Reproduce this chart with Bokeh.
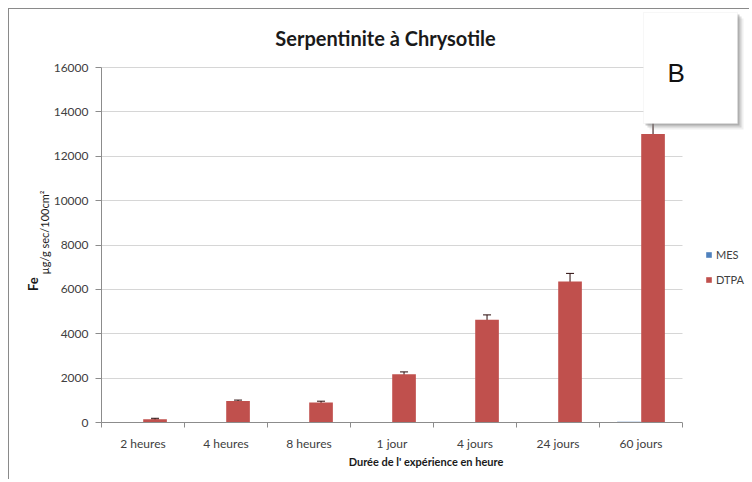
import numpy as np
from bokeh.plotting import figure
from bokeh.models import (Range1d, FixedTicker, ColumnDataSource, Whisker, TeeHead,
                          Label, Legend, LegendItem, BoxAnnotation, LinearAxis)
from bokeh.embed import file_html
from bokeh.resources import INLINE

# ---- data ----
categories = ["2 heures", "4 heures", "8 heures", "1 jour", "4 jours", "24 jours", "60 jours"]
mes = [0, 0, 0, 20, 0, 0, 30]
dtpa = [150, 970, 900, 2180, 4630, 6350, 13000]
dtpa_err = [40, 40, 60, 100, 220, 370, 660]
y_ticks = [0, 2000, 4000, 6000, 8000, 10000, 12000, 14000, 16000]

title_text = "Serpentinite à Chrysotile"
x_title = "Durée de l' expérience en heure"
y_title_main = "Fe"
y_title_sub = "µg/g sec/100cm²"
panel_letter = "B"

FONT = "Lato"
TXT = "#404040"
AX = "#8c8c8c"
MES_C = "#4F81BD"
DTPA_C = "#C0504D"

# ---- layout (page pixels) ----
OFF = 9                      # figure content origin on the page (margin + border)
W, H = 741, 471
B_LEFT, B_BOTTOM = 92, 58
frame_left = OFF + B_LEFT            # 101
frame_right = OFF + W                # 750
frame_top = OFF                      # 9
frame_bottom = OFF + H - B_BOTTOM    # 422
plot_right = 682                     # where the category area ends
plot_top = 67                        # where the top tick sits

n = len(categories)
y_max = y_ticks[-1]
x_end = n * (frame_right - frame_left) / (plot_right - frame_left)
y_end = y_max * (frame_bottom - frame_top) / (frame_bottom - plot_top)

def sx(px):  # page x -> frame screen units
    return px - frame_left

def sy(py):  # page y -> frame screen units (from bottom)
    return frame_bottom - py

xc = np.arange(n) + 0.5
off = 0.145
bw = 0.285

p = figure(width=W, height=H, output_backend="svg", toolbar_location=None,
           x_range=Range1d(0, x_end), y_range=Range1d(0, y_end),
           min_border_left=B_LEFT, min_border_right=0, min_border_top=0,
           min_border_bottom=B_BOTTOM)
p.outline_line_color = None
p.background_fill_color = "white"
p.border_fill_color = "white"
p.styles = {"margin-left": "8px", "margin-top": "8px",
            "border-left": "1px solid #8a8a8a", "border-top": "1px solid #8a8a8a"}

r_mes = p.vbar(x=xc - off, top=mes, width=bw, fill_color=MES_C, line_color=None)
r_dtpa = p.vbar(x=xc + off, top=dtpa, width=bw, fill_color=DTPA_C, line_color=None)

# cover grid lines beyond the category area
p.add_layout(BoxAnnotation(left=n, fill_color="white", fill_alpha=1, line_color=None))

lo = [v - e for v, e in zip(dtpa, dtpa_err)]
up = [v + e for v, e in zip(dtpa, dtpa_err)]
src = ColumnDataSource(dict(base=xc + off, lower=lo, upper=up))
wh = Whisker(base="base", lower="lower", upper="upper", source=src, line_color="#2a0a0a",
             line_width=1,
             upper_head=TeeHead(size=8, line_color="#2a0a0a", line_width=1),
             lower_head=TeeHead(size=8, line_color="#2a0a0a", line_width=1))
p.add_layout(wh)

# axes
p.xgrid.visible = False
p.ygrid.grid_line_color = "#d6d6d6"
p.yaxis.ticker = FixedTicker(ticks=y_ticks)
p.yaxis.bounds = (0, y_max)
p.yaxis.axis_line_color = AX
p.yaxis.major_tick_line_color = AX
p.yaxis.major_tick_out = 6
p.yaxis.major_tick_in = 0
p.yaxis.minor_tick_line_color = None
p.yaxis.major_label_text_font = FONT
p.yaxis.major_label_text_font_size = "12px"
p.yaxis.major_label_text_color = TXT
p.yaxis.major_label_standoff = 7

def title_axis(text, size, style, pad_em, standoff):
    ax = LinearAxis(ticker=FixedTicker(ticks=[]),
                    axis_label=text + "\u2003" * pad_em, axis_line_color=None,
                    major_tick_line_color=None, minor_tick_line_color=None,
                    major_tick_out=0, major_tick_in=0, minor_tick_out=0,
                    major_label_standoff=0, major_label_text_font_size="0px",
                    axis_label_standoff=standoff,
                    axis_label_text_font=FONT, axis_label_text_font_size=size,
                    axis_label_text_font_style=style, axis_label_text_color="#1a1a1a")
    p.add_layout(ax, "left")

title_axis(y_title_sub, "11px", "normal", 4, 0)
title_axis(y_title_main, "13px", "bold", 14, -6)

p.xaxis.ticker = FixedTicker(ticks=list(xc), minor_ticks=list(range(n + 1)))
p.xaxis.bounds = (0, n)
p.xaxis.major_label_overrides = {float(c): lab for c, lab in zip(xc, categories)}
p.xaxis.major_tick_line_color = None
p.xaxis.minor_tick_line_color = AX
p.xaxis.minor_tick_out = 5
p.xaxis.minor_tick_in = 0
p.xaxis.axis_line_color = AX
p.xaxis.major_label_text_font = FONT
p.xaxis.major_label_text_font_size = "12px"
p.xaxis.major_label_text_color = TXT
p.xaxis.major_label_standoff = 7
p.xaxis.axis_label = x_title
p.xaxis.axis_label_text_font = FONT
p.xaxis.axis_label_text_font_size = "11px"
p.xaxis.axis_label_text_font_style = "bold"
p.xaxis.axis_label_text_color = "#1a1a1a"
p.xaxis.axis_label_standoff = 1

# legend
legend = Legend(items=[LegendItem(label="MES", renderers=[r_mes]),
                       LegendItem(label="DTPA", renderers=[r_dtpa])],
                location=(sx(705), sy(286)))
legend.background_fill_alpha = 0
legend.border_line_color = None
legend.padding = 0
legend.margin = 0
legend.glyph_width = 7
legend.glyph_height = 7
legend.label_height = 10
legend.spacing = 12
legend.label_standoff = 4
legend.label_text_font = FONT
legend.label_text_font_size = "11px"
legend.label_text_color = TXT
p.add_layout(legend)

# title
p.add_layout(Label(x=sx(385), y=sy(37), x_units="screen", y_units="screen", text=title_text,
                   text_align="center", text_baseline="middle", text_font=FONT,
                   text_font_size="20px", text_font_style="bold", text_color="#1a1a1a"))

# panel letter box with shadow
bl, br, bt, bb = sx(643), sx(737), sy(12), sy(123)
for d, a in [(6, 0.12), (4, 0.25), (2, 0.4)]:
    p.add_layout(BoxAnnotation(left=bl + d, right=br + d, top=bt - d, bottom=bb - d,
                               left_units="screen", right_units="screen",
                               top_units="screen", bottom_units="screen",
                               fill_color="#7a7a7a", fill_alpha=a, line_color=None))
p.add_layout(BoxAnnotation(left=bl, right=br, top=bt, bottom=bb,
                           left_units="screen", right_units="screen",
                           top_units="screen", bottom_units="screen",
                           fill_color="white", fill_alpha=1, line_color="#e6e6e6", line_width=1))
p.add_layout(Label(x=sx(667), y=sy(72), x_units="screen", y_units="screen", text=panel_letter,
                   text_align="left", text_baseline="middle", text_font="Liberation Sans",
                   text_font_size="26px", text_color="#111111"))

open("out.html", "w").write(file_html(p, INLINE))
